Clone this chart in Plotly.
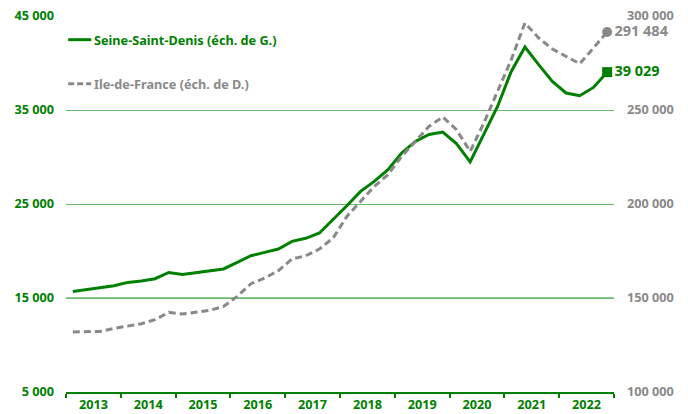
import plotly.graph_objects as go

years = list(range(2013, 2023))
# quarterly points 2013T1 .. 2022T4, placed at middle of each quarter
quarters = [y + (q - 0.5) / 4 for y in years for q in range(1, 5)]

ssd = [15700, 15880, 16060, 16310, 16660, 16810, 17050, 17720,
       17510, 17720, 17940, 18090, 18790, 19500, 19850, 20210,
       21020, 21350, 21920, 23330, 24820, 26340, 27400, 28650,
       30430, 31660, 32400, 32660, 31420, 29470, 32370, 35380,
       39100, 41700, 39820, 38040, 36810, 36520, 37400, 39029]

idf = [131900, 131920, 132240, 133830, 135270, 136330, 138460, 142350,
       141490, 142350, 143410, 145540, 150860, 157610, 160640, 164530,
       170750, 172500, 176070, 181920, 193410, 201390, 209360, 215590,
       225320, 233300, 241300, 246280, 239520, 227980, 243090, 259900,
       276760, 296280, 288300, 282450, 278510, 274630, 282980, 291484]

left_ticks = [5000, 15000, 25000, 35000, 45000]
right_ticks = [100000, 150000, 200000, 250000, 300000]
legend_names = ["Seine-Saint-Denis (éch. de G.)", "Ile-de-France (éch. de D.)"]

def fmt(v):
    return f"{v:,}".replace(",", " ")

GREEN = "#008000"
GRAY = "#898989"
FONT = "Noto Sans"
FS = 12.7
FS_END = 14.5

fig = go.Figure()
fig.add_trace(go.Scatter(
    x=quarters, y=ssd, mode="lines", name=legend_names[0],
    line=dict(color=GREEN, width=3), yaxis="y", showlegend=False))
fig.add_trace(go.Scatter(
    x=quarters, y=idf, mode="lines", name=legend_names[1],
    line=dict(color=GRAY, width=3, dash="7px,4px"), yaxis="y2", showlegend=False))
fig.add_trace(go.Scatter(
    x=[quarters[-1]], y=[ssd[-1]], mode="markers+text", showlegend=False,
    marker=dict(symbol="square", size=10, color=GREEN),
    text=[fmt(ssd[-1])], textposition="middle right",
    textfont=dict(color=GREEN, size=FS_END, family=FONT, weight="bold"), yaxis="y",
    cliponaxis=False))
fig.add_trace(go.Scatter(
    x=[quarters[-1]], y=[idf[-1]], mode="markers+text", showlegend=False,
    marker=dict(symbol="circle", size=10, color=GRAY),
    text=[fmt(idf[-1])], textposition="middle right",
    textfont=dict(color=GRAY, size=FS_END, family=FONT, weight="bold"), yaxis="y2",
    cliponaxis=False))

fig.add_shape(type="line", xref="paper", x0=0, x1=1, yref="y", y0=15000, y1=15000,
              line=dict(color="#1f9a1f", width=1), layer="below")

# manual legend
for yy, col, dash, name in [(0.937, GREEN, "solid", legend_names[0]),
                            (0.820, GRAY, "6px,3px", legend_names[1])]:
    fig.add_shape(type="line", xref="paper", yref="paper", x0=0.004, x1=0.046,
                  y0=yy, y1=yy, line=dict(color=col, width=3, dash=dash))
    fig.add_annotation(xref="paper", yref="paper", x=0.048, y=yy, xanchor="left",
                       yanchor="middle", text=name, showarrow=False,
                       font=dict(color=col, size=FS, family=FONT, weight="bold"))

fig.update_layout(
    width=688, height=414,
    margin=dict(l=66, r=74, t=16, b=22),
    paper_bgcolor="white", plot_bgcolor="white",
    font=dict(family=FONT, size=FS, color=GREEN, weight="bold"),
    showlegend=False,
    xaxis=dict(range=[2013, 2023], tickvals=[y + 0.5 for y in years],
               ticktext=[str(y) for y in years], ticks="", showgrid=False,
               showline=True, linecolor=GREEN, linewidth=1.5, zeroline=False,
               automargin=False,
               tickfont=dict(color=GREEN, size=FS, family=FONT, weight="bold"),
               minor=dict(tick0=2013, dtick=1, ticks="outside", ticklen=4,
                          tickcolor=GREEN, tickwidth=1.5, showgrid=False)),
    yaxis=dict(range=[5000, 45000], tickvals=left_ticks,
               ticktext=[fmt(v) for v in left_ticks], showgrid=True,
               gridcolor="#6cbb6c", gridwidth=1, zeroline=False, ticks="",
               ticklabelstandoff=11, automargin=False,
               tickfont=dict(color=GREEN, size=FS, family=FONT, weight="bold")),
    yaxis2=dict(range=[100000, 300000], tickvals=right_ticks,
                ticktext=[fmt(v) for v in right_ticks], overlaying="y",
                side="right", showgrid=False, zeroline=False, ticks="",
                ticklabelstandoff=12, automargin=False,
                tickfont=dict(color=GRAY, size=FS, family=FONT, weight="bold")),
)

fig.write_html("out.html", config={"displayModeBar": False},
               post_script="document.body.style.margin='0';"
                           "document.body.style.overflow='hidden';")
